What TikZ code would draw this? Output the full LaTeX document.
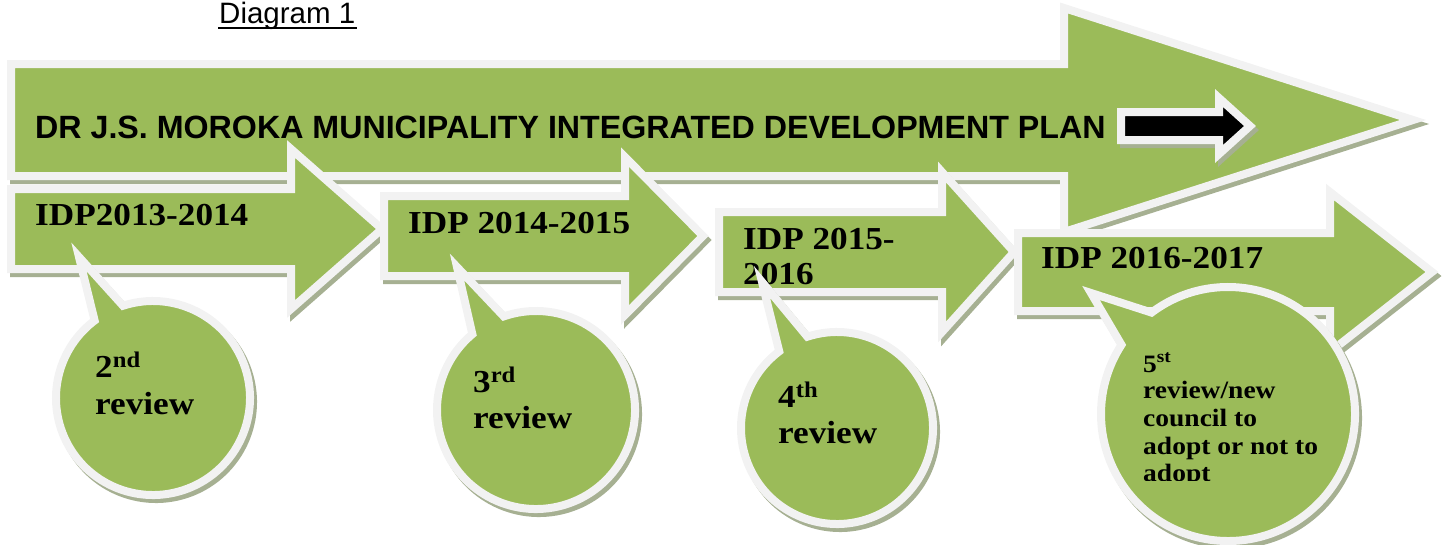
\documentclass[tikz,border=0pt]{standalone}
\usepackage{fontspec}
\setmainfont{Liberation Serif}
\newfontfamily\arialf{Liberation Sans}
\newfontfamily\camf[FakeStretch=1.1]{Liberation Serif}
\usetikzlibrary{calc}
\definecolor{leaf}{RGB}{155,187,89}
\definecolor{rim}{RGB}{242,242,242}
\definecolor{shade}{RGB}{166,176,146}
\tikzset{
  shp/.style={fill=leaf, draw=rim, line width=8pt, line join=miter},
  blk/.style={fill=black, draw=rim, line width=8pt, line join=miter},
  shd/.style={fill=shade, draw=shade, line width=8pt, line join=miter, shift={(3,4)}},
  lbl/.style={anchor=base west, inner sep=0pt, font=\camf\bfseries\fontsize{32}{36}\selectfont},
  small/.style={anchor=base west, inner sep=0pt, font=\camf\bfseries\fontsize{25}{28}\selectfont},
  ttl/.style={anchor=base west, inner sep=0pt, font=\arialf\bfseries\fontsize{32.2}{38}\selectfont},
}
\newcommand\bigarrowpath{(11,64) -- (1064,64) -- (1064,8) -- (1413,120) -- (1064,232) -- (1064,176) -- (11,176) -- cycle}
\newcommand\blackarrowpath{(1121,112) -- (1219,112) -- (1219,98) -- (1250,126) -- (1219,154) -- (1219,140) -- (1121,140) -- cycle}
\newcommand\arrowApath{(11,189) -- (291,189) -- (291,149) -- (382,229) -- (291,309) -- (291,269) -- (11,269) -- cycle}
\newcommand\arrowBpath{(384,196) -- (625,196) -- (625,157) -- (703,236) -- (625,315) -- (625,276) -- (384,276) -- cycle}
\newcommand\arrowCpath{(719,212) -- (942,212) -- (942,172) -- (1014,252) -- (942,332) -- (942,292) -- (719,292) -- cycle}
\newcommand\arrowDpath{(1018,233) -- (1330,233) -- (1330,192) -- (1432,272) -- (1330,352) -- (1330,311) -- (1018,311) -- cycle}
% callout: tip, centre, radius, right angle, left angle (+360)
\newcommand\calloutpath[5]{#1 -- ($#2+(#4:#3)$) arc[start angle=#4, end angle=#5, radius=#3] -- cycle}
\begin{document}
\begin{tikzpicture}[x=1pt, y=-1pt]
\useasboundingbox (0,0) rectangle (1450,544);
% caption
\node[anchor=base west, inner sep=0pt, font=\arialf\fontsize{29.5}{33}\selectfont] (cap) at (219,23) {Diagram 1};
\draw[line width=2pt] ($(cap.base west)+(-1,5)$) -- ($(cap.base east)+(2,5)$);
% big arrow
\path[shd] \bigarrowpath;
\path[shp] \bigarrowpath;
\path[shd] \blackarrowpath;
\path[blk] \blackarrowpath;
\node[ttl] (title) at (35,138) {DR J.S. MOROKA MUNICIPALITY INTEGRATED DEVELOPMENT PLAN};
% arrows
\path[shd] \arrowApath;
\path[shp] \arrowApath;
\node[lbl] (idpA) at (35,225) {IDP2013-2014};
\path[shd] \arrowBpath;
\path[shp] \arrowBpath;
\node[lbl] (idpB) at (408,233) {IDP 2014-2015};
\path[shd] \arrowCpath;
\path[shp] \arrowCpath;
\begin{scope}
\clip (719,212) rectangle (943,287);
\node[lbl] (idpC) at (743,249) {IDP 2015-};
\node[lbl] (idpC2) at (743,284) {2016};
\end{scope}
\path[shd] \arrowDpath;
\path[shp] \arrowDpath;
\node[lbl] (idpD) at (1041,268) {IDP 2016-2017};
% callouts
\path[shd] \calloutpath{(79,257)}{(153,398)}{97}{-108}{233};
\path[shp] \calloutpath{(79,257)}{(153,398)}{97}{-108}{233};
\node[lbl] (r2a) at (95,377) {2\textsuperscript{nd}};
\node[lbl] (r2b) at (95,414) {review};
\path[shd] \calloutpath{(457,267)}{(536,410)}{99}{-109}{230};
\path[shp] \calloutpath{(457,267)}{(536,410)}{99}{-109}{230};
\node[lbl] (r3a) at (473,392) {3\textsuperscript{rd}};
\node[lbl] (r3b) at (473,428) {review};
\path[shd] \calloutpath{(762,282)}{(837,428)}{96}{-108}{233};
\path[shp] \calloutpath{(762,282)}{(837,428)}{96}{-108}{233};
\node[lbl] (r4a) at (778,407) {4\textsuperscript{th}};
\node[lbl] (r4b) at (778,443) {review};
\path[shd] \calloutpath{(1091,293)}{(1228,414)}{127}{-127}{213};
\path[shp] \calloutpath{(1091,293)}{(1228,414)}{127}{-127}{213};
\begin{scope}
\clip (1100,340) rectangle (1360,480);
\node[small] (r5a) at (1143,372) {5\textsuperscript{st}};
\node[small] (r5b) at (1143,398) {review/new};
\node[small] (r5c) at (1143,426) {council to};
\node[small] (r5d) at (1143,454) {adopt or not to};
\node[small] (r5e) at (1143,481) {adopt};
\end{scope}
\end{tikzpicture}
\end{document}
